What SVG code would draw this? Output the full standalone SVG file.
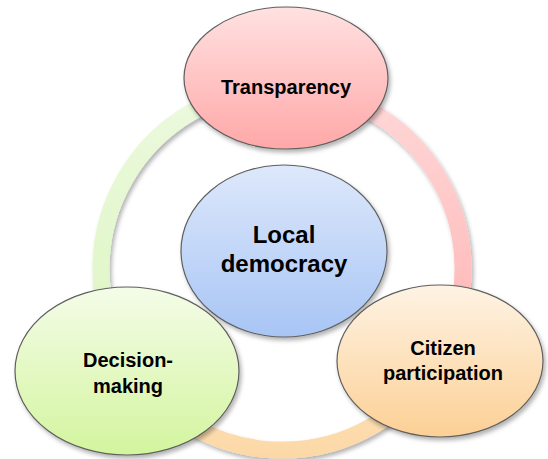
<svg xmlns="http://www.w3.org/2000/svg" width="548" height="459" viewBox="0 0 548 459">
<defs>
<filter id="sh" x="-20%" y="-20%" width="140%" height="140%">
<feDropShadow dx="2" dy="3" stdDeviation="2" flood-color="#000" flood-opacity="0.3"/>
</filter>
<linearGradient id="gPink" x1="0" y1="0" x2="0" y2="1"><stop offset="0" stop-color="#ffe1e1"/><stop offset="1" stop-color="#ffa8a8"/></linearGradient>
<linearGradient id="gBlue" x1="0" y1="0" x2="0" y2="1"><stop offset="0" stop-color="#dde8fb"/><stop offset="1" stop-color="#a8c5f5"/></linearGradient>
<linearGradient id="gGreen" x1="0" y1="0" x2="0" y2="1"><stop offset="0" stop-color="#f4fce8"/><stop offset="1" stop-color="#d3f59e"/></linearGradient>
<linearGradient id="gOrange" x1="0" y1="0" x2="0" y2="1"><stop offset="0" stop-color="#fef3e4"/><stop offset="1" stop-color="#fcd095"/></linearGradient>
<linearGradient id="rPink" gradientUnits="userSpaceOnUse" x1="0" y1="88" x2="0" y2="360"><stop offset="0" stop-color="#ffd8d8"/><stop offset="1" stop-color="#ffb4b4"/></linearGradient>
<linearGradient id="rGreen" gradientUnits="userSpaceOnUse" x1="0" y1="88" x2="0" y2="360"><stop offset="0" stop-color="#ecf9de"/><stop offset="1" stop-color="#ddf6c2"/></linearGradient>
<linearGradient id="rOrange" gradientUnits="userSpaceOnUse" x1="0" y1="360" x2="0" y2="459"><stop offset="0" stop-color="#fde2bd"/><stop offset="1" stop-color="#fcd8a6"/></linearGradient>
</defs>
<style>
.node{stroke:#5f5f5f;stroke-width:1.2;filter:url(#sh)}
.ring{fill:none;stroke-width:17;filter:url(#sh)}
text{font-family:"Liberation Sans",Arial,sans-serif;font-weight:bold;fill:#000;text-anchor:middle}
.s{font-size:20px}
.l{font-size:24px}
</style>
<g id="connectors">
<path class="ring" stroke="url(#rPink)" d="M282 88 A181 181 0 0 1 438.8 359.5"/>
<path class="ring" stroke="url(#rOrange)" d="M438.8 359.5 A181 181 0 0 1 125.2 359.5"/>
<path class="ring" stroke="url(#rGreen)" d="M125.2 359.5 A181 181 0 0 1 282 88"/>
</g>
<g id="transparency">
<ellipse class="node" cx="286" cy="78" rx="102" ry="71" fill="url(#gPink)"/>
<text class="s" x="286" y="94">Transparency</text>
</g>
<g id="local-democracy">
<ellipse class="node" cx="284" cy="251" rx="103" ry="86" fill="url(#gBlue)"/>
<text class="l" x="284" y="243">Local</text>
<text class="l" x="284" y="272">democracy</text>
</g>
<g id="decision-making">
<ellipse class="node" cx="127" cy="371" rx="112" ry="84" fill="url(#gGreen)"/>
<text class="s" x="128" y="367">Decision-</text>
<text class="s" x="128" y="393">making</text>
</g>
<g id="citizen-participation">
<ellipse class="node" cx="440" cy="361" rx="103" ry="76" fill="url(#gOrange)"/>
<text class="s" x="443" y="355">Citizen</text>
<text class="s" x="443" y="380">participation</text>
</g>
</svg>
